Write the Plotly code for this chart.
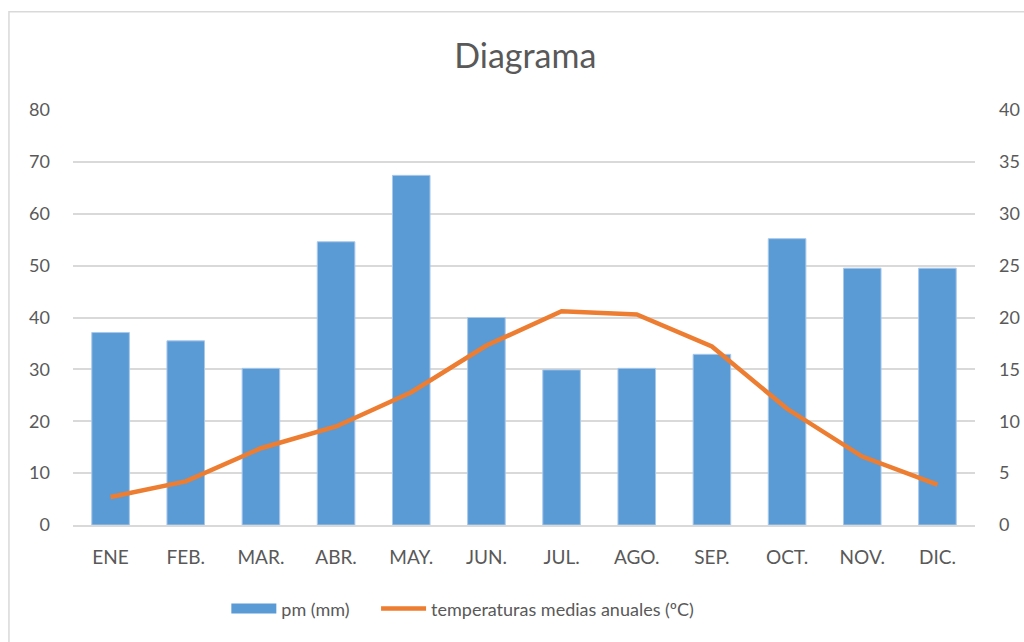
import plotly.graph_objects as go

months = ["ENE", "FEB.", "MAR.", "ABR.", "MAY.", "JUN.", "JUL.", "AGO.", "SEP.", "OCT.", "NOV.", "DIC."]
pm_mm = [37.1, 35.5, 30.2, 54.6, 67.4, 40.0, 29.9, 30.2, 32.9, 55.2, 49.5, 49.5]
temp_c = [2.7, 4.2, 7.4, 9.5, 12.8, 17.3, 20.6, 20.3, 17.2, 11.2, 6.6, 3.9]

left_ticks = [0, 10, 20, 30, 40, 50, 60, 70, 80]
right_ticks = [0, 5, 10, 15, 20, 25, 30, 35, 40]

FONT = "Lato"
TXT = "#595959"
BLUE = "#5B9BD5"
ORANGE = "#ED7D31"

fig = go.Figure()
fig.add_trace(go.Bar(
    x=months, y=pm_mm, name="pm (mm)",
    marker=dict(color=BLUE, line=dict(color="#A9C8EA", width=1)),
    yaxis="y", showlegend=False, legendgroup="pm",
))
# legend entry for the bars (wide rectangle swatch like the original)
fig.add_trace(go.Scatter(
    x=[None], y=[None], name="pm (mm)", mode="lines",
    line=dict(color=BLUE, width=13), legendgroup="pm", hoverinfo="skip",
    legend="legend",
))
fig.add_trace(go.Scatter(
    x=months, y=temp_c, name="temperaturas medias anuales (ºC)",
    mode="lines", line=dict(color=ORANGE, width=4.5),
    yaxis="y2", legend="legend2",
))

legend_common = dict(orientation="h", y=-0.202, yanchor="middle", xanchor="left",
                     font=dict(family=FONT, size=18, color=TXT), itemwidth=45,
                     bgcolor="rgba(0,0,0,0)")

fig.update_layout(
    width=1024, height=642,
    margin=dict(l=73, r=49, t=110, b=117),
    paper_bgcolor="white", plot_bgcolor="white",
    font=dict(family=FONT, color=TXT, size=18),
    title=dict(text="Diagrama", x=0.513, xanchor="center", y=0.912, yanchor="middle",
               font=dict(family=FONT, size=34, color=TXT)),
    bargap=0.5,
    showlegend=True,
    legend=dict(x=0.170, **legend_common),
    legend2=dict(x=0.336, **legend_common),
    xaxis=dict(showgrid=False, showline=True, linecolor="#D9D9D9", linewidth=1.5,
               ticks="", ticklabelstandoff=14, tickfont=dict(size=19, color=TXT),
               automargin=False),
    yaxis=dict(range=[0, 80], tickvals=left_ticks, showgrid=True, gridcolor="#D9D9D9",
               gridwidth=1.5, zeroline=False, showline=False, ticks="",
               ticklabelstandoff=22, tickfont=dict(size=18, color=TXT), automargin=False),
    yaxis2=dict(range=[0, 40], tickvals=right_ticks, overlaying="y", side="right",
                showgrid=False, zeroline=False, showline=False, ticks="",
                ticklabelstandoff=23, tickfont=dict(size=18, color=TXT), automargin=False),
    shapes=[dict(type="rect", xref="paper", yref="paper",
                 x0=-0.071, x1=1.1, y0=-0.3, y1=1.237,
                 line=dict(color="#D9D9D9", width=1.5), fillcolor="rgba(0,0,0,0)", layer="below")],
)

fig.write_html("out.html", config={"displayModeBar": False},
               post_script="document.body.style.margin='0';document.body.style.padding='0';")
